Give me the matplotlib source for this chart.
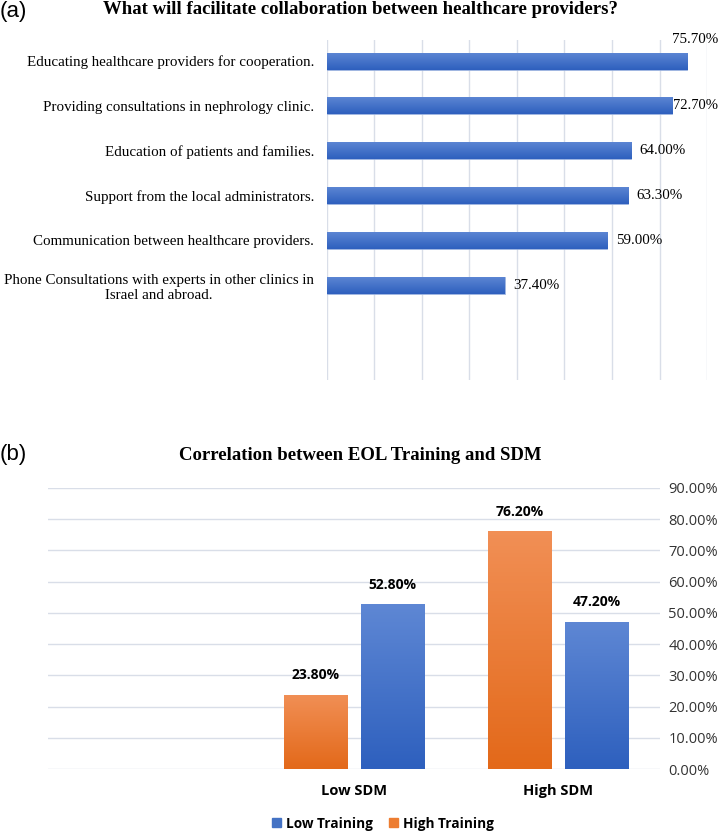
import numpy as np
import matplotlib
matplotlib.use("Agg")
import matplotlib.pyplot as plt
from matplotlib.colors import LinearSegmentedColormap
from matplotlib.patches import Patch

# (a) facilitators of collaboration
facil_labels = [
    "Educating healthcare providers for cooperation.",
    "Providing consultations in nephrology clinic.",
    "Education of patients and families.",
    "Support from the local administrators.",
    "Communication between healthcare providers.",
    "Phone Consultations with experts in other clinics in\nIsrael and abroad.",
]
facil_values = [75.7, 72.7, 64.0, 63.3, 59.0, 37.4]

# (b) EOL training vs SDM
sdm_groups = ["", "Low SDM", "High SDM"]
low_training = [np.nan, 0.528, 0.472]
high_training = [np.nan, 0.238, 0.762]

blue_cmap = LinearSegmentedColormap.from_list("b", ["#5E87D4", "#2E60BE"])
orange_cmap = LinearSegmentedColormap.from_list("o", ["#F18F55", "#E3691A"])


def gradient_bars(ax, bars, cmap, horizontal=False):
    grad = np.linspace(0, 1, 64).reshape(-1, 1)
    for b in bars:
        x, y = b.get_x(), b.get_y()
        w, h = b.get_width(), b.get_height()
        if np.isnan(w) or np.isnan(h) or w == 0 or h == 0:
            continue
        if horizontal:
            # y axis inverted, so y is the top edge
            ext = (x, x + w, y + h, y)
            im = ax.imshow(grad, cmap=cmap, extent=ext, aspect="auto",
                           origin="upper", zorder=2)
        else:
            ext = (x, x + w, y, y + h)
            im = ax.imshow(grad[::-1], cmap=cmap, extent=ext, aspect="auto",
                           origin="lower", zorder=2)
        im.set_clip_path(b)
        b.set_facecolor("none")


fig = plt.figure(figsize=(7.2, 8.31), dpi=100)

# ---------- (a) ----------
ax1 = fig.add_axes([0.4537, 0.5427, 0.5285, 0.4092])
ypos = np.arange(len(facil_values))
bars1 = ax1.barh(ypos, facil_values, height=0.38, color="#4472C4",
                 edgecolor="#8FAADC", linewidth=0.6, zorder=2)
ax1.set_xlim(0, 80)
ax1.set_ylim(7.12, -0.47)
gradient_bars(ax1, bars1, blue_cmap, horizontal=True)
ax1.set_xticks(np.arange(0, 81, 10))
ax1.xaxis.grid(True, color="#D9DEE8", linewidth=1)
ax1.set_axisbelow(True)
ax1.tick_params(axis="x", length=0, labelbottom=False)
ax1.tick_params(axis="y", length=0, pad=9)
ax1.set_yticks(ypos)
ax1.set_yticklabels(facil_labels, family="Liberation Serif", fontsize=10.8,
                    multialignment="center")
for s in ax1.spines.values():
    s.set_visible(False)
for i, v in enumerate(facil_values):
    if i == 0:
        ax1.annotate(f"{v:.2f}%", (v, i), xytext=(6, 11), textcoords="offset points",
                     ha="center", va="bottom", family="Liberation Serif", fontsize=10.8)
    elif v > 70:
        ax1.annotate(f"{v:.2f}%", (v, i), xytext=(0.5, 0), textcoords="offset points",
                     ha="left", va="center", family="Liberation Serif", fontsize=10.5)
    else:
        ax1.annotate(f"{v:.2f}%", (v, i), xytext=(6, 0), textcoords="offset points",
                     ha="left", va="center", family="Liberation Serif", fontsize=10.8)

fig.text(0.5, 0.988, "What will facilitate collaboration between healthcare providers?",
         ha="center", va="center", family="Liberation Serif", fontweight="bold",
         fontsize=13.5)
fig.text(0.0, 0.986, "(a)", ha="left", va="center", family="Liberation Sans", fontsize=16)

# ---------- (b) ----------
ax2 = fig.add_axes([0.0667, 0.0746, 0.85, 0.3382])
xg = np.arange(len(sdm_groups))
w = 0.31
off = 0.19
bars_hi = ax2.bar(xg - off, high_training, width=w, color="#ED7D31",
                  edgecolor="#F4B183", linewidth=0.5, zorder=2, label="High Training")
bars_lo = ax2.bar(xg + off, low_training, width=w, color="#4472C4",
                  edgecolor="#8FAADC", linewidth=0.5, zorder=2, label="Low Training")
ax2.set_ylim(0, 0.9)
ax2.set_xlim(-0.5, 2.5)
gradient_bars(ax2, bars_hi, orange_cmap)
gradient_bars(ax2, bars_lo, blue_cmap)
ax2.yaxis.tick_right()
ticks = np.arange(0, 0.91, 0.1)
ax2.set_yticks(ticks)
ax2.set_yticklabels([f"{t*100:.2f}%" for t in ticks],
                    family="Open Sans", fontsize=10.5, color="#333333")
ax2.yaxis.grid(True, color="#D9DEE8", linewidth=1)
ax2.set_axisbelow(True)
ax2.tick_params(axis="y", length=0, pad=6)
ax2.tick_params(axis="x", length=0, pad=11)
ax2.set_xticks(xg)
ax2.set_xticklabels(sdm_groups, family="Open Sans", fontweight="bold", fontsize=10.5)
for s in ax2.spines.values():
    s.set_visible(False)
for bars, vals in ((bars_hi, high_training), (bars_lo, low_training)):
    for b, v in zip(bars, vals):
        if np.isnan(v):
            continue
        ax2.annotate(f"{v*100:.2f}%", (b.get_x() + b.get_width() / 2, v),
                     xytext=(0, 9), textcoords="offset points", ha="center",
                     va="bottom", family="Open Sans", fontweight="bold", fontsize=10)

handles = [Patch(color="#4472C4", label="Low Training"),
           Patch(color="#ED7D31", label="High Training")]
fig.legend(handles=handles, loc="center", bbox_to_anchor=(0.532, 0.009), ncol=2,
           frameon=False, handlelength=0.65, handleheight=0.65, handletextpad=0.35,
           columnspacing=1.2, prop={"family": "Open Sans", "weight": "bold", "size": 9.8})

fig.text(0.5, 0.452, "Correlation between EOL Training and SDM", ha="center",
         va="center", family="Liberation Serif", fontweight="bold", fontsize=13.5)
fig.text(0.0, 0.453, "(b)", ha="left", va="center", family="Liberation Sans", fontsize=16)

fig.savefig("out.png", dpi=100)
